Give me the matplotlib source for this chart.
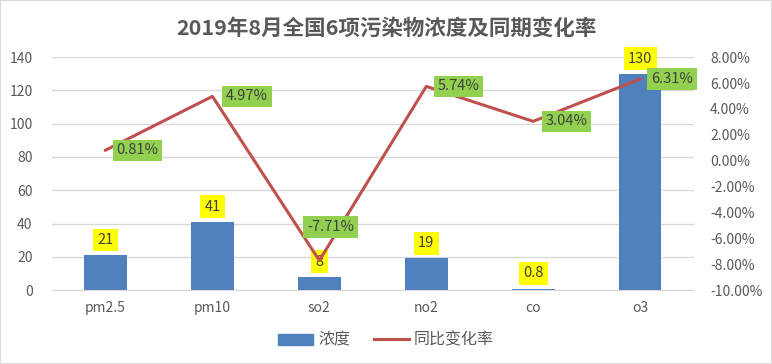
import matplotlib
matplotlib.use("Agg")
import matplotlib.pyplot as plt
from matplotlib.ticker import FuncFormatter
from matplotlib.patches import Rectangle, Patch
from matplotlib.lines import Line2D

plt.rcParams['font.family'] = ['Noto Sans CJK SC', 'DejaVu Sans']

categories = ["pm2.5", "pm10", "so2", "no2", "co", "o3"]
concentration = [21, 41, 8, 19, 0.8, 130]
conc_labels = ["21", "41", "8", "19", "0.8", "130"]
change_pct = [0.81, 4.97, -7.71, 5.74, 3.04, 6.31]
left_ticks = [0, 20, 40, 60, 80, 100, 120, 140]
right_ticks = [-10, -8, -6, -4, -2, 0, 2, 4, 6, 8]

title = "2019年8月全国6项污染物浓度及同期变化率"
legend_labels = ["浓度", "同比变化率"]

TXT = "#595959"
BAR = "#4F81BD"
LINE = "#C0504D"
GRID = "#D9D9D9"

fig = plt.figure(figsize=(7.72, 3.64), dpi=100)
fig.patches.append(Rectangle((0, 0), 1, 1, transform=fig.transFigure, fill=False,
                             edgecolor="#D9D9D9", linewidth=1.5))
ax = fig.add_axes([0.0674, 0.203, 0.831, 0.640])
ax2 = ax.twinx()

x = list(range(len(categories)))
ax.bar(x, concentration, width=0.4, color=BAR, zorder=2)
ax.set_xlim(-0.5, len(categories) - 0.5)
ax.set_ylim(0, 140)
ax.set_yticks(left_ticks)
ax.grid(axis="y", color=GRID, linewidth=1, zorder=0)
ax.set_axisbelow(True)
for s in ax.spines.values():
    s.set_visible(False)
for s in ax2.spines.values():
    s.set_visible(False)
ax.spines['bottom'].set_visible(True)
ax.spines['bottom'].set_color(GRID)
ax.tick_params(axis="both", length=0, colors=TXT, labelsize=10)
ax.tick_params(axis="y", pad=14)
ax.set_xticks(x)
ax.set_xticklabels(categories)
ax.tick_params(axis="x", pad=8)

for xi, v, lab in zip(x, concentration, conc_labels):
    ax.annotate(lab, (xi, v), xytext=(0, 11), textcoords="offset points",
                ha="center", va="center", fontsize=10.5, color="#404040",
                bbox=dict(boxstyle="square,pad=0.3", fc="#FFFF00", ec="none"), zorder=5)

ax2.plot(x, change_pct, color=LINE, linewidth=2.2, zorder=3)
ax2.set_ylim(-10, 8)
ax2.set_yticks(right_ticks)
ax2.yaxis.set_major_formatter(FuncFormatter(lambda v, p: f"{v:.2f}%"))
ax2.tick_params(axis="y", length=0, colors=TXT, labelsize=10, pad=12)

offsets = [(23, 0), (25, 0), (8, 24), (23, 0), (24, 0), (23, 0)]
for xi, v, off in zip(x, change_pct, offsets):
    ax2.annotate(f"{v:.2f}%", (xi, v), xytext=off, textcoords="offset points",
                 ha="center", va="center", fontsize=10.5, color="#404040",
                 bbox=dict(boxstyle="square,pad=0.25", fc="#92D050", ec="none"), zorder=6)

fig.text(0.5, 0.922, title, ha="center", va="center", fontsize=15.5,
         fontweight="bold", color=TXT)

handles = [Patch(color=BAR), Line2D([0], [0], color=LINE, linewidth=2.2)]
fig.legend(handles, legend_labels, loc="center", bbox_to_anchor=(0.5, 0.065), ncol=2,
           frameon=False, fontsize=11.5, labelcolor=TXT, handlelength=2.2,
           handletextpad=0.3, columnspacing=1.5)

fig.savefig("out.png", dpi=100)
